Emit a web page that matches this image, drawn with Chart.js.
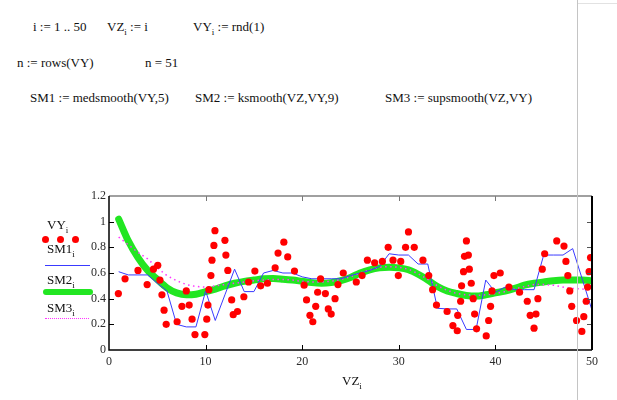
<!DOCTYPE html>
<html>
<head>
<meta charset="utf-8">
<script src="https://cdn.jsdelivr.net/npm/chart.js@4.4.1/dist/chart.umd.min.js"></script>
<style>
    html, body { margin: 0; padding: 0; background: #fff; }
    body { width: 617px; height: 400px; position: relative; overflow: hidden;
           font-family: 'Liberation Serif', 'DejaVu Serif', serif; color: #111; }
    .t { position: absolute; font-size: 13px; white-space: nowrap; line-height: 1; }
    .t sub { font-size: 9px; vertical-align: -4px; line-height: 0; }
    #wrap { position: absolute; left: 0; top: 0; width: 617px; height: 400px; }
    .mk { position: absolute; }
    #page-edge { position: absolute; left: 577px; top: 0; width: 1px; height: 400px; background: #c4c4c4; }
    #page-corner { position: absolute; left: 578px; top: 3px; width: 39px; height: 1px; background: #e2e2e2; }
</style>
</head>
<body>

<!-- 수식 영역 -->
<div class="t" style="left:33px;top:20px;">i := 1 .. 50</div>
<div class="t" style="left:107px;top:20px;">VZ<sub>i</sub> := i</div>
<div class="t" style="left:193px;top:20px;">VY<sub>i</sub> := rnd(1)</div>
<div class="t" style="left:17px;top:56px;">n := rows(VY)</div>
<div class="t" style="left:145px;top:56px;">n = 51</div>
<div class="t" style="left:30px;top:91px;">SM1 := medsmooth(VY,5)</div>
<div class="t" style="left:195px;top:91px;">SM2 := ksmooth(VZ,VY,9)</div>
<div class="t" style="left:385px;top:91px;">SM3 := supsmooth(VZ,VY)</div>

<div id="wrap"><canvas id="smoothChart" width="617" height="400"></canvas></div>

<!-- 범례 -->
<div class="t" style="left:47px;top:218px;">VY<sub>i</sub></div>
<div class="mk" style="left:42px;top:236px;width:7px;height:7px;border-radius:50%;background:#ff0000;"></div>
<div class="mk" style="left:57px;top:236px;width:7px;height:7px;border-radius:50%;background:#ff0000;"></div>
<div class="mk" style="left:72px;top:236px;width:7px;height:7px;border-radius:50%;background:#ff0000;"></div>
<div class="t" style="left:47px;top:242px;">SM1<sub>i</sub></div>
<div class="mk" style="left:45px;top:265px;width:45px;height:1px;background:#3a3aff;"></div>
<div class="t" style="left:47px;top:273px;">SM2<sub>i</sub></div>
<div class="mk" style="left:43px;top:289px;width:50px;height:6px;background:#22e622;border-radius:3px;"></div>
<div class="t" style="left:47px;top:301px;">SM3<sub>i</sub></div>
<div class="mk" style="left:45px;top:318px;width:44px;height:0;border-top:1.5px dotted #ff33ff;"></div>

<div class="t" style="left:342px;top:374px;">VZ<sub>i</sub></div>

<div id="page-edge"></div>
<div id="page-corner"></div>

<script>
// ═══ 데이터 ═══
// 산점도 VY (그림에서 읽은 좌표)
const vyX = [0.97, 1.66, 3.0, 3.95, 4.6, 5.05, 5.27, 5.48, 5.7, 5.92,
             7.05, 7.55, 8.0, 8.3, 8.6, 8.9, 9.92, 10.12, 10.24, 10.34,
             10.55, 10.66, 10.86, 10.97, 12.0, 12.1, 12.3, 12.7, 12.86, 13.3,
             13.96, 14.45, 15.1, 15.7, 16.4, 17.2, 17.5, 18.1, 18.5, 19.2,
             20.2, 20.45, 20.8, 21.1, 21.4, 21.6, 21.9, 22.4, 22.7, 23.0,
             23.4, 23.7, 24.25, 25.6, 26.2, 26.75, 27.5, 28.3, 28.9, 29.4,
             29.95, 30.2, 30.7, 31.0, 31.6, 32.5, 33.1, 33.5, 33.9, 35.0,
             35.6, 36.05, 36.1, 36.4, 36.5, 36.7, 36.8, 37.0, 37.2, 37.3,
             37.5, 37.7, 37.85, 38.05, 39.05, 39.3, 39.5, 39.65, 39.85, 40.5,
             41.4, 42.5, 43.3, 43.6, 44.0, 44.2, 44.4, 44.85, 45.1, 46.35,
             47.1, 47.3, 47.5, 47.7, 47.9, 48.4, 48.95, 49.15, 49.4, 49.55,
             49.7, 49.85];
const vyY = [0.44, 0.555, 0.62, 0.51, 0.63, 0.66, 0.545, 0.43, 0.31, 0.20,
             0.22, 0.34, 0.46, 0.35, 0.24, 0.12, 0.12, 0.24, 0.35, 0.47,
             0.58, 0.70, 0.815, 0.93, 0.855, 0.74, 0.62, 0.39, 0.275, 0.30,
             0.415, 0.53, 0.615, 0.50, 0.52, 0.64, 0.755, 0.84, 0.725, 0.615,
             0.505, 0.39, 0.27, 0.22, 0.34, 0.45, 0.555, 0.44, 0.32, 0.28,
             0.40, 0.51, 0.60, 0.53, 0.58, 0.70, 0.68, 0.69, 0.80, 0.70,
             0.58, 0.69, 0.80, 0.92, 0.80, 0.70, 0.58, 0.47, 0.35, 0.30,
             0.19, 0.15, 0.27, 0.38, 0.50, 0.61, 0.73, 0.85, 0.74, 0.63,
             0.52, 0.40, 0.28, 0.165, 0.11, 0.23, 0.34, 0.46, 0.58, 0.60,
             0.49, 0.45, 0.38, 0.27, 0.17, 0.28, 0.40, 0.63, 0.75, 0.85,
             0.81, 0.69, 0.58, 0.46, 0.34, 0.23, 0.145, 0.26, 0.38, 0.49,
             0.61, 0.72];

// 평활 곡선 (VZ = 1..50)
const vz  = [1, 2, 3, 4, 5, 6, 7, 8, 9, 10, 11, 12, 13, 14, 15, 16, 17, 18, 19, 20,
             21, 22, 23, 24, 25, 26, 27, 28, 29, 30, 31, 32, 33, 34, 35, 36, 37, 38, 39, 40,
             41, 42, 43, 44, 45, 46, 47, 48, 49, 50];
const sm1 = [0.61, 0.585, 0.585, 0.585, 0.52, 0.46, 0.20, 0.18, 0.18, 0.46,
             0.23, 0.43, 0.63, 0.455, 0.455, 0.60, 0.62, 0.60, 0.60, 0.57,
             0.555, 0.555, 0.555, 0.555, 0.58, 0.60, 0.62, 0.65, 0.75, 0.74,
             0.74, 0.67, 0.67, 0.325, 0.32, 0.32, 0.16, 0.16, 0.545, 0.45,
             0.49, 0.47, 0.47, 0.47, 0.74, 0.74, 0.74, 0.79, 0.55, 0.31];
const sm2 = [1.02, 0.85, 0.72, 0.62, 0.55, 0.485, 0.445, 0.43, 0.435, 0.455,
             0.475, 0.50, 0.52, 0.535, 0.545, 0.555, 0.557, 0.552, 0.545, 0.535,
             0.525, 0.52, 0.525, 0.54, 0.565, 0.60, 0.625, 0.64, 0.645, 0.64,
             0.625, 0.59, 0.545, 0.495, 0.46, 0.44, 0.425, 0.42, 0.43, 0.445,
             0.46, 0.48, 0.505, 0.52, 0.53, 0.54, 0.545, 0.545, 0.545, 0.54];
const sm3 = [0.88, 0.82, 0.76, 0.71, 0.64, 0.58, 0.54, 0.51, 0.495, 0.49,
             0.50, 0.51, 0.52, 0.53, 0.54, 0.545, 0.55, 0.55, 0.545, 0.535,
             0.53, 0.53, 0.535, 0.55, 0.57, 0.60, 0.625, 0.645, 0.65, 0.645,
             0.63, 0.595, 0.55, 0.50, 0.465, 0.44, 0.43, 0.425, 0.43, 0.44,
             0.455, 0.475, 0.495, 0.51, 0.51, 0.505, 0.49, 0.48, 0.475, 0.47];

const xTicks = [0, 10, 20, 30, 40, 50];
const yTicks = [0, 0.2, 0.4, 0.6, 0.8, 1, 1.2];

const toPts = (xs, ys) => xs.map((x, i) => ({ x: x, y: ys[i] }));

// 테두리 + 안쪽 눈금 (Mathcad 스타일)
const framePlugin = {
    id: 'mathcadFrame',
    afterDatasetsDraw(chart) {
        const { ctx, chartArea: a, scales: { x, y } } = chart;
        ctx.save();
        ctx.lineWidth = 1;
        // 눈금
        xTicks.slice(1, -1).forEach(v => {
            const px = Math.round(x.getPixelForValue(v)) + 0.5;
            ctx.strokeStyle = '#000';
            ctx.beginPath(); ctx.moveTo(px, a.bottom); ctx.lineTo(px, a.bottom - 5); ctx.stroke();
            ctx.strokeStyle = '#777';
            ctx.beginPath(); ctx.moveTo(px, a.top); ctx.lineTo(px, a.top + 5); ctx.stroke();
        });
        yTicks.slice(1, -1).forEach(v => {
            const py = Math.round(y.getPixelForValue(v)) + 0.5;
            ctx.strokeStyle = '#000';
            ctx.beginPath(); ctx.moveTo(a.left, py); ctx.lineTo(a.left + 5, py); ctx.stroke();
            ctx.strokeStyle = '#555';
            ctx.beginPath(); ctx.moveTo(a.right, py); ctx.lineTo(a.right - 5, py); ctx.stroke();
        });
        // 테두리
        ctx.strokeStyle = '#808080';
        ctx.lineWidth = 1.5;
        ctx.beginPath(); ctx.moveTo(a.left, a.top); ctx.lineTo(a.right, a.top); ctx.stroke();
        ctx.strokeStyle = '#000';
        ctx.beginPath();
        ctx.moveTo(a.left, a.top); ctx.lineTo(a.left, a.bottom); ctx.lineTo(a.right, a.bottom);
        ctx.stroke();
        ctx.lineWidth = 2;
        ctx.beginPath(); ctx.moveTo(a.right, a.top); ctx.lineTo(a.right, a.bottom); ctx.stroke();
        ctx.restore();
    }
};

const tickFont = { family: "'Liberation Serif', serif", size: 12 };

new Chart(document.getElementById('smoothChart').getContext('2d'), {
    type: 'scatter',
    data: {
        datasets: [
            {
                label: 'VY',
                data: toPts(vyX, vyY),
                backgroundColor: '#ff0000',
                borderWidth: 0,
                pointRadius: 3.6,
                order: 0
            },
            {
                label: 'SM1',
                data: toPts(vz, sm1),
                showLine: true,
                borderColor: '#3a3aff',
                borderWidth: 1,
                pointRadius: 0,
                order: 1
            },
            {
                label: 'SM3',
                data: toPts(vz, sm3),
                showLine: true,
                borderColor: '#ff33ff',
                borderWidth: 1.5,
                borderDash: [1.5, 3.5],
                pointRadius: 0,
                order: 2
            },
            {
                label: 'SM2',
                data: toPts(vz, sm2),
                showLine: true,
                borderColor: '#22e622',
                borderWidth: 7,
                borderCapStyle: 'round',
                borderJoinStyle: 'round',
                cubicInterpolationMode: 'monotone',
                pointRadius: 0,
                order: 3
            }
        ]
    },
    options: {
        responsive: false,
        animation: false,
        layout: { padding: { left: 78, right: 25, top: 196, bottom: 0 } },
        plugins: { legend: { display: false }, tooltip: { enabled: false } },
        scales: {
            x: {
                type: 'linear', min: 0, max: 50,
                afterFit: s => { s.height = 50; },
                afterBuildTicks: s => { s.ticks = xTicks.map(v => ({ value: v })); },
                grid: { display: false, drawTicks: false },
                border: { display: false },
                ticks: { font: tickFont, color: '#2b2b2b', padding: 5, maxRotation: 0 }
            },
            y: {
                type: 'linear', min: 0, max: 1.2,
                afterFit: s => { s.width = 31; },
                afterBuildTicks: s => { s.ticks = yTicks.map(v => ({ value: v })); },
                grid: { display: false, drawTicks: false },
                border: { display: false },
                ticks: {
                    font: tickFont, color: '#2b2b2b', padding: 3,
                    callback: v => String(+v.toFixed(1))
                }
            }
        }
    },
    plugins: [framePlugin]
});
</script>
</body>
</html>
